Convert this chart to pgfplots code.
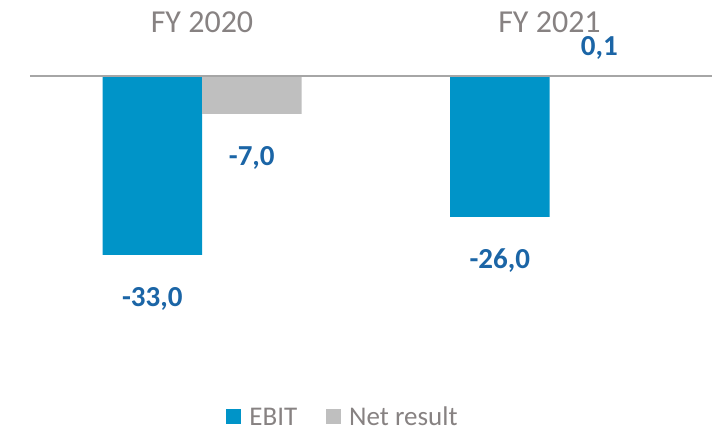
\documentclass[border=0pt]{standalone}
\usepackage{pgfplots}
\pgfplotsset{compat=1.18}
\usepackage{fontspec}
\setmainfont{Carlito}
\definecolor{ebit}{HTML}{0094C8}
\definecolor{net}{HTML}{BFBFBF}
\definecolor{lab}{HTML}{1B65A6}
\definecolor{txt}{HTML}{878282}
\definecolor{zl}{HTML}{A6A6A6}
\begin{document}
\begin{tikzpicture}
\begin{axis}[
  scale only axis, width=712pt, height=431pt,
  xmin=-0.5813, xmax=1.4676, ymin=-65.5, ymax=14.02,
  axis line style={draw=none}, xtick=\empty, ytick=\empty,
  ybar, bar width=99.5pt,
  visualization depends on={rawy \as \rawy},
  legend style={at={(0.481,0.006)}, anchor=south, draw=none, fill=none,
    font=\fontsize{27}{32}\selectfont, text=txt, legend columns=2,
    inner sep=0pt, nodes={inner sep=1pt},
    /tikz/every odd column/.append style={column sep=7pt},
    /tikz/every even column/.append style={column sep=28pt}},
  legend image code/.code={\fill[#1] (0pt,-7pt) rectangle (15pt,8pt);},
]
\addplot[fill=ebit, draw=none, bar shift=-49.75pt,
  point meta=explicit symbolic, nodes near coords,
  every node near coord/.append style={anchor=base, text=lab, font=\fontsize{29}{34}\selectfont\bfseries, yshift={ifthenelse(\rawy<0,-52,20)}}]
  coordinates {(0,-33.0) [-33,0] (1,-26.0) [-26,0]};
\addplot[fill=net, draw=none, bar shift=49.75pt,
  point meta=explicit symbolic, nodes near coords,
  every node near coord/.append style={anchor=base, text=lab, font=\fontsize{29}{34}\selectfont\bfseries, yshift={ifthenelse(\rawy<0,-52,20)}}]
  coordinates {(0,-7.0) [-7,0] (1,0.1) [0,1]};
\legend{EBIT, Net result}
\addplot[zl, line width=2pt, sharp plot, no markers, forget plot] coordinates {(-0.495,0) (1.4676,0)};
\node[anchor=base, font=\fontsize{32}{38}\selectfont, text=txt] at (axis cs:0,7.93) {FY 2020};
\node[anchor=base, font=\fontsize{32}{38}\selectfont, text=txt] at (axis cs:1,7.93) {FY 2021};
\end{axis}
\end{tikzpicture}
\end{document}
